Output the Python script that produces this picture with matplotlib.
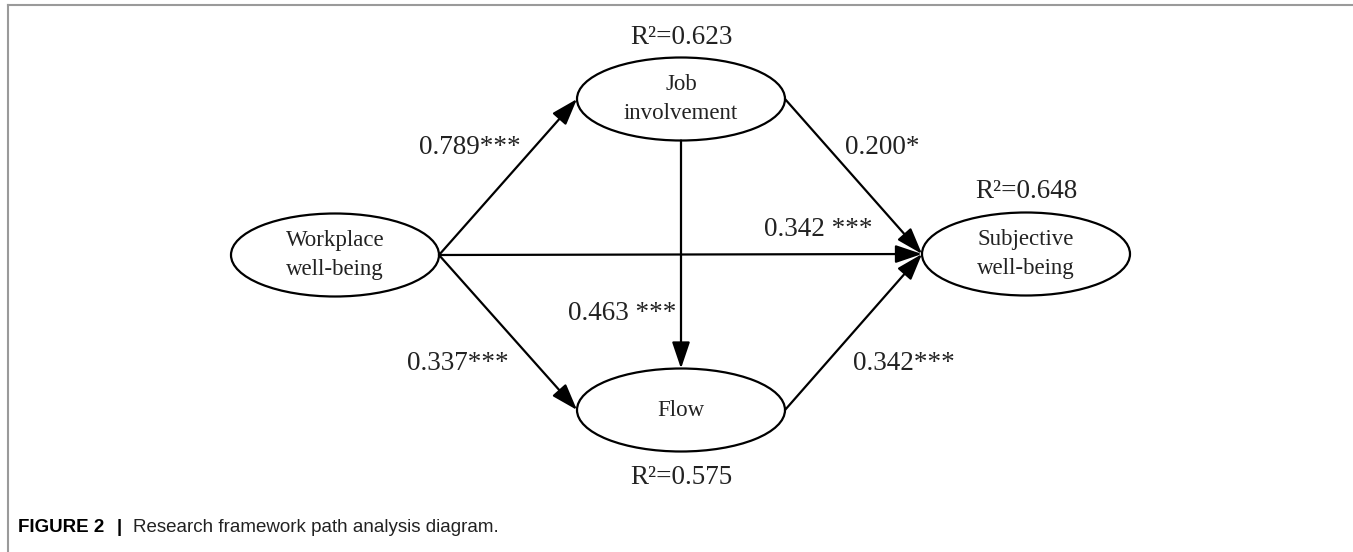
# path analysis diagram (research framework, Figure 2)
import matplotlib
matplotlib.use("Agg")
import matplotlib.pyplot as plt
from matplotlib.patches import Ellipse

# ── Data ──────────────────────────────────────────────────────────────────────
nodes     = ["Workplace\nwell-being", "Job\ninvolvement", "Flow", "Subjective\nwell-being"]
node_xy   = [(335, 255), (681, 99), (681, 410), (1026, 254)]   # pixel centres
r2_values = [None, 0.623, 0.575, 0.648]
r2_xy     = [None, (681, 37), (681, 478), (1026, 192)]

# paths: (from, to, coefficient label)
paths = [
    (0, 1, "0.789***"),
    (1, 3, "0.200*"),
    (0, 3, "0.342 ***"),
    (1, 2, "0.463 ***"),
    (0, 2, "0.337***"),
    (2, 3, "0.342***"),
]
label_xy = [(470, 147), (882, 147), (818, 230), (622, 313), (458, 363), (904, 363)]

caption_bold = "FIGURE 2"
caption_text = "Research framework path analysis diagram."

# ── Layout ────────────────────────────────────────────────────────────────────
W, H = 1353, 552
EW, EH = 208, 83
SERIF = ["Liberation Serif", "DejaVu Serif"]
SANS  = ["Liberation Sans", "DejaVu Sans"]

fig = plt.figure(figsize=(W / 100, H / 100), dpi=100)
ax = fig.add_axes([0, 0, 1, 1])
ax.set_xlim(0, W)
ax.set_ylim(H, 0)
ax.axis("off")

# frame lines (top and left)
ax.plot([8, W], [5, 5], color="#9a9a9a", lw=1.5)
ax.plot([8, 8], [5, H], color="#9a9a9a", lw=1.5)


def anchor(i, j):
    """Point on ellipse i where the path to ellipse j attaches."""
    (x0, y0), (x1, y1) = node_xy[i], node_xy[j]
    if abs(x1 - x0) < 1:
        return (x0, y0 + EH / 2 * (1 if y1 > y0 else -1))
    return (x0 + EW / 2 * (1 if x1 > x0 else -1), y0)


for name, (x, y) in zip(nodes, node_xy):
    ax.add_patch(Ellipse((x, y), EW, EH, facecolor="white",
                         edgecolor="black", lw=1.6, zorder=2))
    ax.text(x, y, name, ha="center", va="center", fontsize=16.5,
            family=SERIF, linespacing=1.45, color="#222222", zorder=3)

for r2, pos in zip(r2_values, r2_xy):
    if r2 is None:
        continue
    ax.text(pos[0], pos[1], f"R\u00b2={r2:.3f}", ha="center", va="center",
            fontsize=19.5, family=SERIF, color="#222222")

for (i, j, lab), (lx, ly) in zip(paths, label_xy):
    start, end = anchor(i, j), anchor(j, i)
    ax.annotate("", xy=end, xytext=start,
                arrowprops=dict(arrowstyle="-|>,head_length=0.65,head_width=0.22",
                                mutation_scale=25, lw=1.6, color="black",
                                shrinkA=0, shrinkB=0),
                zorder=4)
    ax.text(lx, ly, lab, ha="center", va="center", fontsize=19.5,
            family=SERIF, color="#222222")

# caption
ax.text(18, 528, caption_bold, ha="left", va="center", fontsize=13.5,
        fontweight="bold", family=SANS)
ax.text(117, 528, "|", ha="left", va="center", fontsize=13.5,
        fontweight="bold", family=SANS)
ax.text(133, 528, caption_text, ha="left", va="center", fontsize=13.5,
        family=SANS, color="#222222")

fig.savefig("out.png", dpi=100)
